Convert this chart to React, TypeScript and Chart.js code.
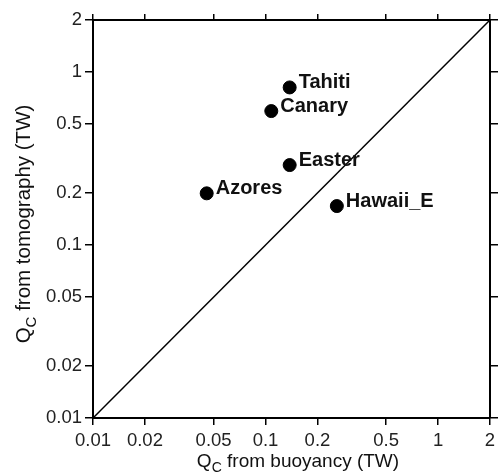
import React, { useEffect, useRef } from "react";
import { Chart, registerables } from "chart.js";

Chart.register(...registerables);

const tickValues = [0.01, 0.02, 0.05, 0.1, 0.2, 0.5, 1, 2];
const tickLabels = ["0.01", "0.02", "0.05", "0.1", "0.2", "0.5", "1", "2"];
const hotspotNames = ["Tahiti", "Canary", "Easter", "Hawaii_E", "Azores"];
const buoyancyFlux = [0.138, 0.108, 0.138, 0.259, 0.0456];
const tomographyFlux = [0.815, 0.595, 0.29, 0.168, 0.199];
const oneToOneLine = [0.01, 2];

const FONT = "'Liberation Sans', Arial, Helvetica, sans-serif";

const setTicks = (axis: any) => {
  axis.ticks = tickValues.map((v) => ({ value: v }));
};
const labelCb = (value: any) => {
  const i = tickValues.findIndex((t) => Math.abs(t - value) < 1e-9);
  return i >= 0 ? tickLabels[i] : "";
};

const labelsPlugin = {
  id: "pointLabels",
  afterDatasetsDraw(chart: any) {
    const ctx = chart.ctx;
    const meta = chart.getDatasetMeta(1);
    ctx.save();
    ctx.fillStyle = "#111";
    ctx.font = `bold 20px ${FONT}`;
    ctx.textBaseline = "middle";
    ctx.textAlign = "left";
    meta.data.forEach((pt: any, i: number) => {
      ctx.fillText(hotspotNames[i], pt.x + 9, pt.y - 5);
    });
    ctx.restore();
  },
};

const drawSubTitle = (ctx: any, main: string, sub: string, rest: string, size: number) => {
  ctx.font = `${size}px ${FONT}`;
  const w1 = ctx.measureText(main).width;
  const w3 = ctx.measureText(rest).width;
  ctx.font = `${Math.round(size * 0.72)}px ${FONT}`;
  const w2 = ctx.measureText(sub).width;
  const total = w1 + w2 + w3;
  let x = -total / 2;
  ctx.font = `${size}px ${FONT}`;
  ctx.fillText(main, x, 0);
  x += w1;
  ctx.font = `${Math.round(size * 0.72)}px ${FONT}`;
  ctx.fillText(sub, x, size * 0.28);
  x += w2;
  ctx.font = `${size}px ${FONT}`;
  ctx.fillText(rest, x, 0);
};

const titlesPlugin = {
  id: "axisTitles",
  afterDraw(chart: any) {
    const ctx = chart.ctx;
    ctx.save();
    ctx.fillStyle = "#111";
    ctx.textBaseline = "alphabetic";
    ctx.textAlign = "left";
    ctx.save();
    ctx.translate(298, 467);
    drawSubTitle(ctx, "Q", "C", " from buoyancy (TW)", 19);
    ctx.restore();
    ctx.save();
    ctx.translate(30, 224);
    ctx.rotate(-Math.PI / 2);
    drawSubTitle(ctx, "Q", "C", " from tomography (TW)", 20.5);
    ctx.restore();
    ctx.restore();
  },
};

export default function App() {
  const ref = useRef<HTMLCanvasElement | null>(null);
  useEffect(() => {
    document.body.style.margin = "0";
    if (!ref.current) return;
    const axisCommon = {
      type: "logarithmic" as const,
      min: 0.01,
      max: 2,
      afterBuildTicks: setTicks,
      border: { display: true, color: "#000", width: 2 },
    };
    const noPad = (s: any) => {
      s.paddingLeft = 0;
      s.paddingRight = 0;
      s.paddingTop = 0;
      s.paddingBottom = 0;
    };
    const chart = new Chart(ref.current, {
      type: "scatter",
      data: {
        datasets: [
          {
            type: "line",
            data: oneToOneLine.map((v) => ({ x: v, y: v })),
            borderColor: "#000",
            borderWidth: 1.5,
            pointRadius: 0,
            fill: false,
          } as any,
          {
            data: buoyancyFlux.map((x, i) => ({ x, y: tomographyFlux[i] })),
            backgroundColor: "#000",
            borderColor: "#000",
            pointRadius: 6.5,
            pointHoverRadius: 6.5,
          },
        ],
      },
      options: {
        animation: false,
        responsive: true,
        maintainAspectRatio: false,
        layout: { padding: 0 },
        plugins: { legend: { display: false }, tooltip: { enabled: false } },
        scales: {
          x: {
            ...axisCommon,
            position: "bottom",
            grid: { drawOnChartArea: false, drawTicks: true, tickLength: 7, color: "#000", lineWidth: 1.5 },
            ticks: { callback: labelCb, color: "#222", font: { family: FONT, size: 18.5 }, padding: 5, maxRotation: 0, autoSkip: false },
            afterFit: (s: any) => { s.height = 54; noPad(s); },
          },
          x2: {
            ...axisCommon,
            position: "top",
            grid: { drawOnChartArea: false, drawTicks: true, tickLength: 6, color: "#000", lineWidth: 1.5 },
            ticks: { display: false },
            afterFit: (s: any) => { s.height = 20; noPad(s); },
          },
          y: {
            ...axisCommon,
            position: "left",
            grid: { drawOnChartArea: false, drawTicks: true, tickLength: 8, color: "#000", lineWidth: 1.5 },
            ticks: { callback: labelCb, color: "#222", font: { family: FONT, size: 18.5 }, padding: 3, autoSkip: false },
            afterFit: (s: any) => { s.width = 93; noPad(s); },
          },
          y2: {
            ...axisCommon,
            position: "right",
            grid: { drawOnChartArea: false, drawTicks: true, tickLength: 8, color: "#000", lineWidth: 1.5 },
            ticks: { display: false },
            afterFit: (s: any) => { s.width = 8; noPad(s); },
          },
        } as any,
      },
      plugins: [labelsPlugin, titlesPlugin],
    });
    return () => chart.destroy();
  }, []);
  return (
    <div style={{ position: "absolute", left: 0, top: 0, width: 498, height: 472, background: "#fff" }}>
      <canvas ref={ref} />
    </div>
  );
}
